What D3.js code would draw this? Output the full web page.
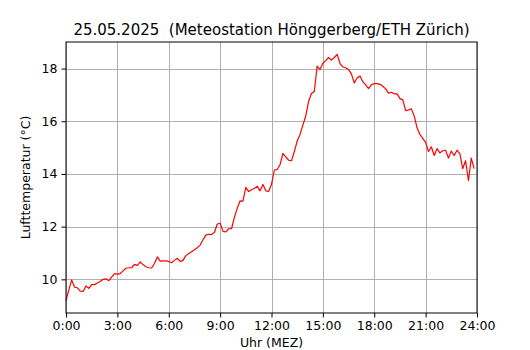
<!DOCTYPE html>
<html><head><meta charset="utf-8">
<script src="https://cdn.jsdelivr.net/npm/d3@7/dist/d3.min.js"></script>
<style>body{margin:0;background:#fff}svg{display:block}text{font-family:"DejaVu Sans",sans-serif}</style>
</head><body><svg id="c" width="530" height="350"></svg>
<script>
const titleText = "25.05.2025  (Meteostation Hönggerberg/ETH Zürich)";
const xLabel = "Uhr (MEZ)";
const yLabel = "Lufttemperatur (°C)";
const stepMinutes = 10;
const temps = [
 9.19,9.6,9.98,9.7,9.68,9.55,9.54,9.75,9.66,9.8,9.8,9.86,
 9.92,10.0,10.02,9.95,10.08,10.22,10.2,10.22,10.32,10.42,10.44,10.44,
 10.57,10.53,10.66,10.56,10.48,10.44,10.43,10.6,10.85,10.69,10.7,10.7,
 10.68,10.63,10.72,10.8,10.68,10.72,10.9,10.98,11.05,11.12,11.2,11.3,
 11.5,11.68,11.71,11.7,11.78,12.1,12.13,11.82,11.8,11.92,11.92,12.35,
 12.7,12.98,12.97,13.49,13.33,13.4,13.45,13.53,13.36,13.6,13.36,13.34,
 13.6,14.15,14.17,14.35,14.78,14.65,14.52,14.5,14.85,15.25,15.5,15.85,
 16.2,16.75,17.05,17.13,18.09,17.96,18.2,18.3,18.42,18.32,18.42,18.54,
 18.19,18.06,18.03,17.96,17.8,17.45,17.64,17.72,17.5,17.38,17.24,17.38,
 17.43,17.43,17.4,17.33,17.23,17.07,17.1,17.04,17.04,16.86,16.81,16.4,
 16.43,16.47,16.2,15.75,15.5,15.35,15.2,14.85,15.03,14.7,14.96,14.8,
 14.88,14.9,14.6,14.87,14.7,14.9,14.77,14.2,14.5,13.75,14.6,14.2
];
const xTicks = [0,3,6,9,12,15,18,21,24];
const xTickLabels = ["0:00","3:00","6:00","9:00","12:00","15:00","18:00","21:00","24:00"];
const yTicks = [10,12,14,16,18];

const svg = d3.select("#c");
const L=66, R=477, T=42, B=313;
const hours = temps.map((d,i)=>i*stepMinutes/60);
const x = d3.scaleLinear().domain([0,24]).range([L,R]);
const ymin = d3.min(temps), ymax = d3.max(temps), pad=(ymax-ymin)*0.05;
const y = d3.scaleLinear().domain([ymin-pad, ymax+pad]).range([B,T]);

// grid
const g = svg.append("g");
g.selectAll("line.gx").data(xTicks).join("line")
  .attr("x1",d=>Math.round(x(d))+0.5).attr("x2",d=>Math.round(x(d))+0.5)
  .attr("y1",T).attr("y2",B).attr("stroke","#b0b0b0").attr("stroke-width",1);
g.selectAll("line.gy").data(yTicks).join("line")
  .attr("y1",d=>Math.round(y(d))+0.5).attr("y2",d=>Math.round(y(d))+0.5)
  .attr("x1",L).attr("x2",R).attr("stroke","#b0b0b0").attr("stroke-width",1);

// line
const line = d3.line().x((d,i)=>x(hours[i])).y(d=>y(d));
svg.append("path").datum(temps).attr("d",line).attr("fill","none")
  .attr("stroke","#ff0000").attr("stroke-width",1.2).attr("stroke-linejoin","round");

// axes
const xa = d3.axisBottom(x).tickValues(xTicks).tickFormat((d,i)=>xTickLabels[i]).tickSize(4.5).tickPadding(4);
svg.append("g").attr("transform",`translate(0,${B})`).call(xa)
  .call(s=>s.select(".domain").remove())
  .call(s=>s.selectAll("text").attr("font-size",12.5).attr("fill","#000").attr("font-family","DejaVu Sans"))
  .call(s=>s.selectAll("line").attr("stroke","#000"));
const ya = d3.axisLeft(y).tickValues(yTicks).tickSize(4.5).tickPadding(4);
svg.append("g").attr("transform",`translate(${L},0)`).call(ya)
  .call(s=>s.select(".domain").remove())
  .call(s=>s.selectAll("text").attr("font-size",12.5).attr("fill","#000").attr("font-family","DejaVu Sans"))
  .call(s=>s.selectAll("line").attr("stroke","#000"));

// frame
svg.append("rect").attr("x",L).attr("y",T).attr("width",R-L).attr("height",B-T)
  .attr("fill","none").attr("stroke","#000").attr("stroke-width",1);

// texts
svg.append("text").attr("x",(L+R)/2).attr("y",35).attr("text-anchor","middle")
  .style("white-space","pre").attr("xml:space","preserve")
  .attr("font-size",15).text(titleText);
svg.append("text").attr("x",(L+R)/2).attr("y",347).attr("text-anchor","middle")
  .attr("font-size",12.5).text(xLabel);
svg.append("text").attr("transform",`translate(30,${(T+B)/2}) rotate(-90)`).attr("text-anchor","middle")
  .attr("font-size",12.5).text(yLabel);
</script></body></html>
